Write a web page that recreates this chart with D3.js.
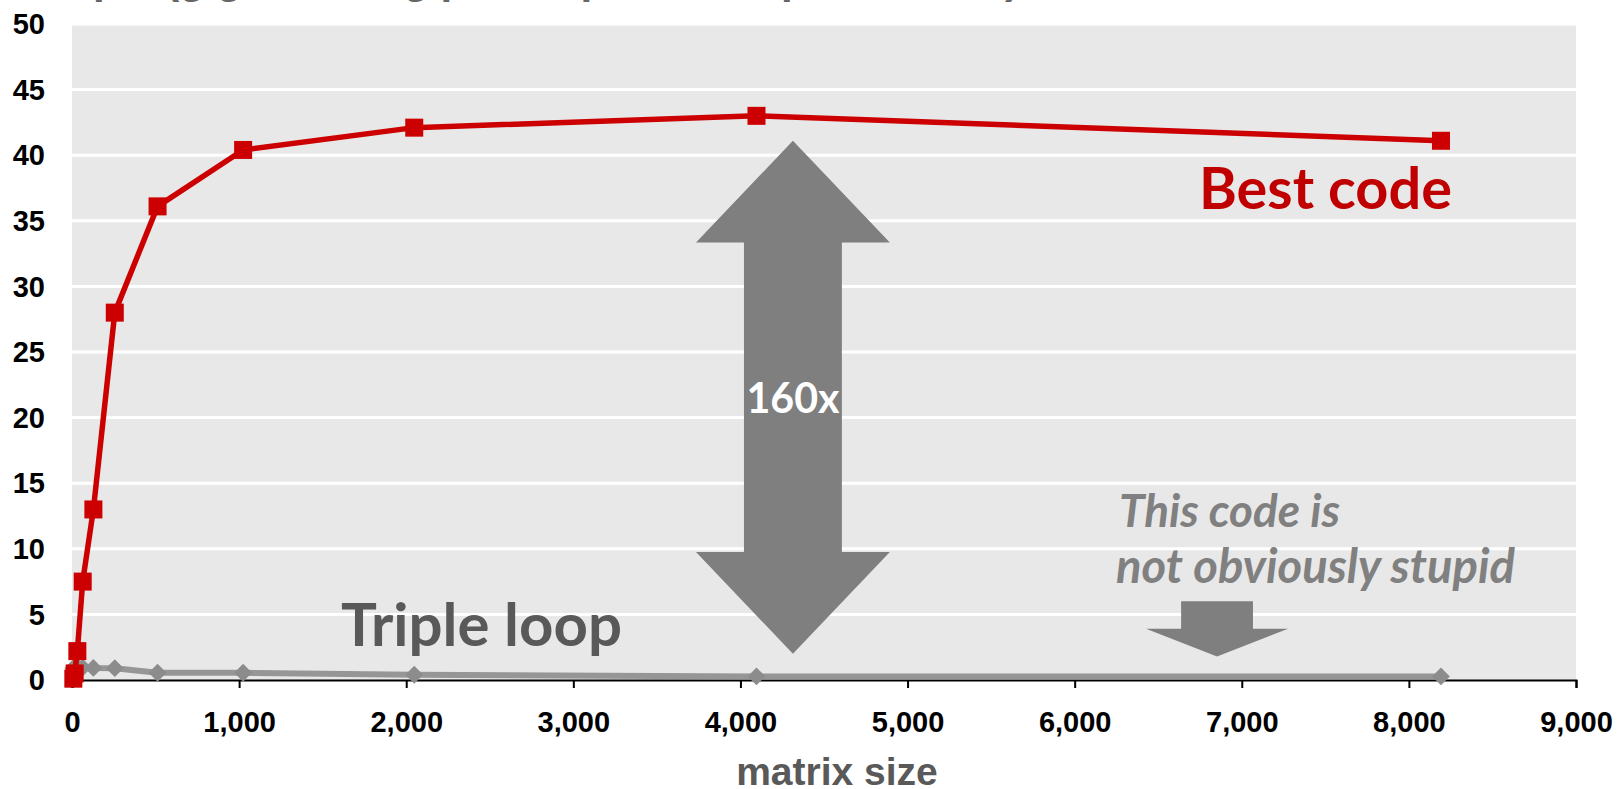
<!DOCTYPE html>
<html>
<head>
<meta charset="utf-8">
<script src="https://cdn.jsdelivr.net/npm/d3@7"></script>
<style>
  html, body { margin: 0; padding: 0; background: #fff; }
  svg { display: block; }
</style>
</head>
<body>
<svg id="chart" width="1620" height="789"></svg>
<script>
// Matrix sizes (n) and measured throughput in Gflop/s
const bestSizes   = [8, 16, 32, 64, 128, 256, 512, 1024, 2048, 4096, 8192];
const bestGflops  = [0.1, 0.5, 2.2, 7.5, 13.0, 28.0, 36.1, 40.4, 42.1, 43.0, 41.1];
const tripleSizes = [8, 16, 32, 64, 128, 256, 512, 1024, 2048, 4096, 8192];
const tripleGflops = [0.9, 1.0, 1.0, 0.95, 0.92, 0.9, 0.55, 0.55, 0.4, 0.27, 0.27];

const xTicks = [0, 1000, 2000, 3000, 4000, 5000, 6000, 7000, 8000, 9000];
const yTicks = [0, 5, 10, 15, 20, 25, 30, 35, 40, 45, 50];

const svg = d3.select("#chart");
const plot = { left: 72, right: 1576, top: 24, bottom: 680 };

const x = d3.scaleLinear().domain([0, 9000]).range([plot.left, plot.right]);
const y = d3.scaleLinear().domain([0, 50]).range([plot.bottom, plot.top]);

// Title above the plot (mostly scrolled out of view)
svg.append("text")
  .attr("x", 9).attr("y", -7)
  .attr("font-family", "Liberation Sans, Arial, sans-serif")
  .attr("font-weight", "bold").attr("font-size", 42)
  .attr("fill", "#666")
  .attr("textLength", 1010).attr("lengthAdjust", "spacingAndGlyphs")
  .text("Gflop/s (giga floating point operations per second)");

// Plot background
svg.append("rect")
  .attr("x", plot.left).attr("y", plot.top)
  .attr("width", plot.right - plot.left).attr("height", plot.bottom - plot.top)
  .attr("fill", "#e8e8e8");

// Horizontal gridlines
svg.append("g")
  .selectAll("line")
  .data(yTicks.filter(d => d > 0))
  .join("line")
  .attr("x1", plot.left).attr("x2", plot.right)
  .attr("y1", d => y(d)).attr("y2", d => y(d))
  .attr("stroke", "#fff").attr("stroke-width", 3);

// Y tick labels
svg.append("g")
  .selectAll("text")
  .data(yTicks)
  .join("text")
  .attr("x", 45).attr("y", d => y(d))
  .attr("dy", "0.35em")
  .attr("text-anchor", "end")
  .attr("font-family", "Liberation Sans, Arial, sans-serif")
  .attr("font-weight", "bold").attr("font-size", 29)
  .attr("fill", "#000")
  .text(d => d);

// X axis
const xAxis = d3.axisBottom(x)
  .tickValues(xTicks)
  .tickSize(8)
  .tickPadding(23)
  .tickFormat(d3.format(","));
const gx = svg.append("g")
  .attr("transform", `translate(0,${plot.bottom})`)
  .call(xAxis);
gx.select(".domain").attr("stroke", "#000").attr("stroke-width", 2);
gx.selectAll(".tick line").attr("stroke", "#000").attr("stroke-width", 2);
gx.selectAll(".tick text")
  .attr("font-family", "Liberation Sans, Arial, sans-serif")
  .attr("font-weight", "bold").attr("font-size", 29)
  .attr("fill", "#000");

// X axis title
svg.append("text")
  .attr("x", 837).attr("y", 785)
  .attr("text-anchor", "middle")
  .attr("font-family", "Liberation Sans, Arial, sans-serif")
  .attr("font-weight", "bold").attr("font-size", 39)
  .attr("fill", "#595959")
  .text("matrix size");

// Series as [size, gflops] pairs
const triple = tripleSizes.map((s, i) => [s, tripleGflops[i]]);
const best = bestSizes.map((s, i) => [s, bestGflops[i]]);
const line = d3.line().x(d => x(d[0])).y(d => y(d[1]));

// Triple loop: grey line with diamond markers
svg.append("path")
  .datum(triple)
  .attr("d", line)
  .attr("fill", "none").attr("stroke", "#969696")
  .attr("stroke-width", 6).attr("stroke-linejoin", "round");
svg.append("g")
  .selectAll("path")
  .data(triple)
  .join("path")
  .attr("transform", d => `translate(${x(d[0])},${y(d[1])}) rotate(45)`)
  .attr("d", "M-6.3,-6.3H6.3V6.3H-6.3Z")
  .attr("fill", "#8c8c8c");

// Best code: red line with square markers
svg.append("path")
  .datum(best)
  .attr("d", line)
  .attr("fill", "none").attr("stroke", "#cc0000")
  .attr("stroke-width", 5.5).attr("stroke-linejoin", "round");
svg.append("g")
  .selectAll("rect")
  .data(best)
  .join("rect")
  .attr("x", d => x(d[0]) - 9).attr("y", d => y(d[1]) - 9)
  .attr("width", 18).attr("height", 18)
  .attr("fill", "#cc0000");

// Annotation arrows, in data units
const bigArrow = { cx: 4314, top: 41.1, headTop: 33.35, headBottom: 9.75, bottom: 2.0, head: 580, shaft: 293 };
const smallArrow = { cx: 6852, shaftTop: 6.0, headTop: 3.9, tip: 1.8, head: 425, shaft: 215 };

const big = [
  [bigArrow.cx, bigArrow.top],
  [bigArrow.cx + bigArrow.head, bigArrow.headTop],
  [bigArrow.cx + bigArrow.shaft, bigArrow.headTop],
  [bigArrow.cx + bigArrow.shaft, bigArrow.headBottom],
  [bigArrow.cx + bigArrow.head, bigArrow.headBottom],
  [bigArrow.cx, bigArrow.bottom],
  [bigArrow.cx - bigArrow.head, bigArrow.headBottom],
  [bigArrow.cx - bigArrow.shaft, bigArrow.headBottom],
  [bigArrow.cx - bigArrow.shaft, bigArrow.headTop],
  [bigArrow.cx - bigArrow.head, bigArrow.headTop]
];
svg.append("path")
  .attr("d", d3.line().x(d => x(d[0])).y(d => y(d[1]))(big) + "Z")
  .attr("fill", "#7f7f7f");

const small = [
  [smallArrow.cx - smallArrow.shaft, smallArrow.shaftTop],
  [smallArrow.cx + smallArrow.shaft, smallArrow.shaftTop],
  [smallArrow.cx + smallArrow.shaft, smallArrow.headTop],
  [smallArrow.cx + smallArrow.head, smallArrow.headTop],
  [smallArrow.cx, smallArrow.tip],
  [smallArrow.cx - smallArrow.head, smallArrow.headTop],
  [smallArrow.cx - smallArrow.shaft, smallArrow.headTop]
];
svg.append("path")
  .attr("d", d3.line().x(d => x(d[0])).y(d => y(d[1]))(small) + "Z")
  .attr("fill", "#7f7f7f");

// Callout labels, sized to their measured width
const calloutFont = "Lato, 'Open Sans', sans-serif";
function label(txt, px, py, width, color, opts = {}) {
  const t = svg.append("text")
    .attr("x", px).attr("y", py)
    .attr("text-anchor", opts.anchor || "start")
    .attr("font-family", calloutFont)
    .attr("font-weight", "bold")
    .attr("font-style", opts.italic ? "italic" : "normal")
    .attr("font-size", 50)
    .attr("fill", color)
    .text(txt);
  const w = t.node().getComputedTextLength();
  t.attr("font-size", 50 * width / w);
  return t;
}
label("Best code", 1199, 209, 253, "#c00000");
label("Triple loop", 341, 646, 281, "#595959");
label("160x", 793, 413, 93, "#ffffff", { anchor: "middle" });
label("This code is", 1119, 527, 221, "#808080", { italic: true });
label("not obviously stupid", 1116, 583, 399, "#808080", { italic: true });
</script>
</body>
</html>
